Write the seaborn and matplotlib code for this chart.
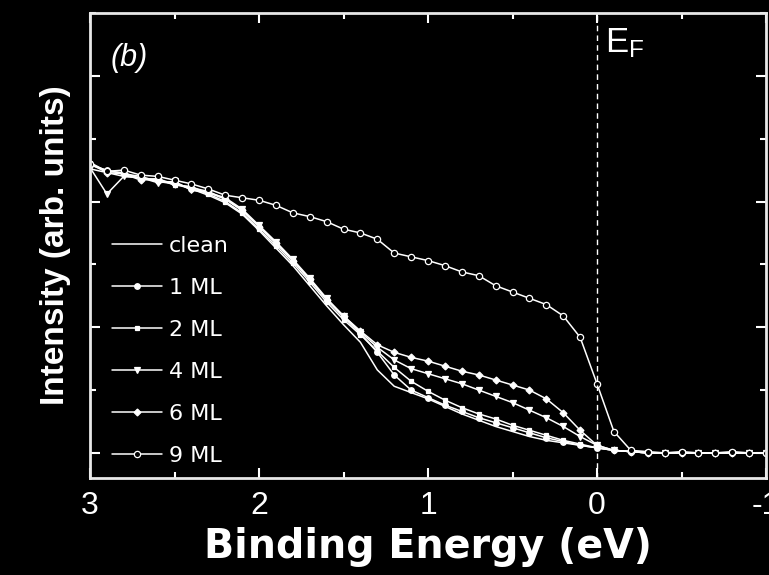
import matplotlib
matplotlib.use("Agg")
import matplotlib.pyplot as plt
from matplotlib import font_manager
from matplotlib.ticker import MultipleLocator, NullFormatter
import seaborn as sns

# Photoemission spectra near the Fermi level
energy = [3.0, 2.9, 2.8, 2.7, 2.6, 2.5, 2.4, 2.3, 2.2, 2.1,
          2.0, 1.9, 1.8, 1.7, 1.6, 1.5, 1.4, 1.3, 1.2, 1.1,
          1.0, 0.9, 0.8, 0.7, 0.6, 0.5, 0.4, 0.3, 0.2, 0.1,
          0.0, -0.1, -0.2, -0.3, -0.4, -0.5, -0.6, -0.7, -0.8, -0.9, -1.0]

clean = [2.26, 2.23, 2.20, 2.19, 2.16, 2.14, 2.10, 2.05, 1.99, 1.90,
         1.77, 1.63, 1.49, 1.33, 1.17, 1.02, 0.88, 0.66, 0.53, 0.48,
         0.43, 0.37, 0.31, 0.26, 0.21, 0.17, 0.13, 0.10, 0.08, 0.06,
         0.04, 0.02, 0.01, 0.00, 0.00, 0.00, 0.00, 0.00, 0.00, 0.00, 0.00]

ml_1 = [2.29, 2.25, 2.22, 2.20, 2.16, 2.15, 2.10, 2.07, 2.02, 1.93,
        1.80, 1.67, 1.53, 1.38, 1.22, 1.08, 0.95, 0.80, 0.62, 0.50,
        0.44, 0.38, 0.33, 0.28, 0.24, 0.20, 0.16, 0.12, 0.09, 0.06,
        0.04, 0.02, 0.01, 0.00, 0.00, 0.00, 0.00, 0.00, 0.00, 0.00, 0.00]

ml_2 = [2.31, 2.24, 2.23, 2.18, 2.18, 2.13, 2.12, 2.06, 2.00, 1.91,
        1.78, 1.65, 1.51, 1.36, 1.20, 1.06, 0.94, 0.81, 0.68, 0.57,
        0.49, 0.42, 0.36, 0.31, 0.27, 0.22, 0.18, 0.14, 0.10, 0.07,
        0.04, 0.02, 0.01, 0.00, 0.00, 0.00, 0.00, 0.00, 0.00, 0.00, 0.00]

ml_4 = [2.27, 2.06, 2.20, 2.19, 2.15, 2.16, 2.09, 2.07, 2.03, 1.94,
        1.81, 1.68, 1.54, 1.39, 1.23, 1.09, 0.96, 0.84, 0.74, 0.67,
        0.63, 0.59, 0.55, 0.50, 0.45, 0.40, 0.34, 0.28, 0.21, 0.13,
        0.06, 0.02, 0.01, 0.00, 0.00, 0.00, 0.00, 0.00, 0.00, 0.00, 0.00]

ml_6 = [2.30, 2.23, 2.22, 2.17, 2.18, 2.14, 2.11, 2.08, 2.02, 1.93,
        1.80, 1.67, 1.53, 1.38, 1.22, 1.09, 0.97, 0.86, 0.80, 0.76,
        0.73, 0.69, 0.65, 0.62, 0.58, 0.54, 0.50, 0.43, 0.32, 0.18,
        0.06, 0.02, 0.01, 0.00, 0.00, 0.00, 0.00, 0.00, 0.00, 0.00, 0.00]

ml_9 = [2.30, 2.24, 2.25, 2.21, 2.20, 2.17, 2.14, 2.10, 2.05, 2.03,
        2.01, 1.97, 1.91, 1.88, 1.84, 1.78, 1.75, 1.70, 1.59, 1.56,
        1.53, 1.49, 1.44, 1.41, 1.33, 1.28, 1.23, 1.18, 1.09, 0.92,
        0.55, 0.17, 0.02, 0.01, 0.00, 0.01, 0.00, 0.00, 0.01, 0.00, 0.00]

labels = ["clean", "1 ML", "2 ML", "4 ML", "6 ML", "9 ML"]
series = [clean, ml_1, ml_2, ml_4, ml_6, ml_9]
x_ticks = [3, 2, 1, 0, -1]
x_tick_labels = ["3", "2", "1", "0", "-1"]

# marker style for each coverage
styles = [
    dict(marker=None),
    dict(marker="o", markersize=4, markerfacecolor="white"),
    dict(marker="s", markersize=3.5, markerfacecolor="white"),
    dict(marker="v", markersize=4.5, markerfacecolor="white"),
    dict(marker="D", markersize=3.5, markerfacecolor="white"),
    dict(marker="o", markersize=4.5, markerfacecolor="black"),
]

sns.set_style("ticks")
installed = {f.name for f in font_manager.fontManager.ttflist}
narrow = "Liberation Sans Narrow" if "Liberation Sans Narrow" in installed else "Liberation Sans"
plt.rcParams["font.family"] = ["Liberation Sans", "DejaVu Sans"]
plt.rcParams["mathtext.fontset"] = "custom"
plt.rcParams["mathtext.rm"] = "Liberation Sans"

fg = "white"
fig = plt.figure(figsize=(7.69, 5.75), dpi=100, facecolor="black")
ax = fig.add_axes([90 / 769, 1 - 478 / 575, 676 / 769, 465 / 575])
ax.set_facecolor("black")

for name, vals, st in zip(labels, series, styles):
    sns.lineplot(x=energy, y=vals, ax=ax, color=fg, linewidth=1.1,
                 markeredgecolor=fg, markeredgewidth=0.9,
                 label=name, estimator=None, sort=False, **st)

# Fermi level
ax.axvline(0, color=fg, linewidth=1.0, dashes=(4, 3))
ax.text(-0.05, 0.916, r"$\mathregular{E_F}$", transform=ax.get_xaxis_transform(),
        color=fg, fontsize=25, ha="left", va="baseline")
ax.text(2.88, 0.886, "(b)", transform=ax.get_xaxis_transform(), color=fg,
        fontsize=22, style="italic", ha="left", va="baseline")

ax.set_xlim(3, -1)
ax.set_ylim(-0.2, 3.5)
ax.set_xticks(x_ticks)
ax.set_xticklabels(x_tick_labels, fontfamily=narrow, fontsize=23, color=fg)
ax.xaxis.set_minor_locator(MultipleLocator(0.5))
ax.yaxis.set_major_locator(MultipleLocator(1))
ax.yaxis.set_minor_locator(MultipleLocator(0.5))
ax.yaxis.set_major_formatter(NullFormatter())

ax.tick_params(which="both", direction="in", top=True, right=True,
               color=fg, width=1.5)
ax.tick_params(which="major", length=7)
ax.tick_params(which="minor", length=4)
ax.tick_params(axis="x", pad=9)

for sp in ax.spines.values():
    sp.set_color("#e8e8e8")
    sp.set_linewidth(2.0)

ax.set_xlabel("Binding Energy (eV)", fontfamily="DejaVu Sans",
              fontweight="bold", fontsize=28.5, color=fg, labelpad=5)
ylab_size = 29 if narrow == "Liberation Sans Narrow" else 24
ax.set_ylabel("Intensity (arb. units)", fontfamily=narrow,
              fontweight="bold", fontsize=ylab_size, color=fg, labelpad=10)

leg = ax.legend(loc="upper left", bbox_to_anchor=(0.0325, 0.5204),
                borderaxespad=0, borderpad=0, frameon=False,
                prop=dict(family="DejaVu Sans", size=16),
                handlelength=2.25, handletextpad=0.3, labelspacing=0.99)
for t in leg.get_texts():
    t.set_color(fg)

fig.savefig("out.png", dpi=100, facecolor="black")
